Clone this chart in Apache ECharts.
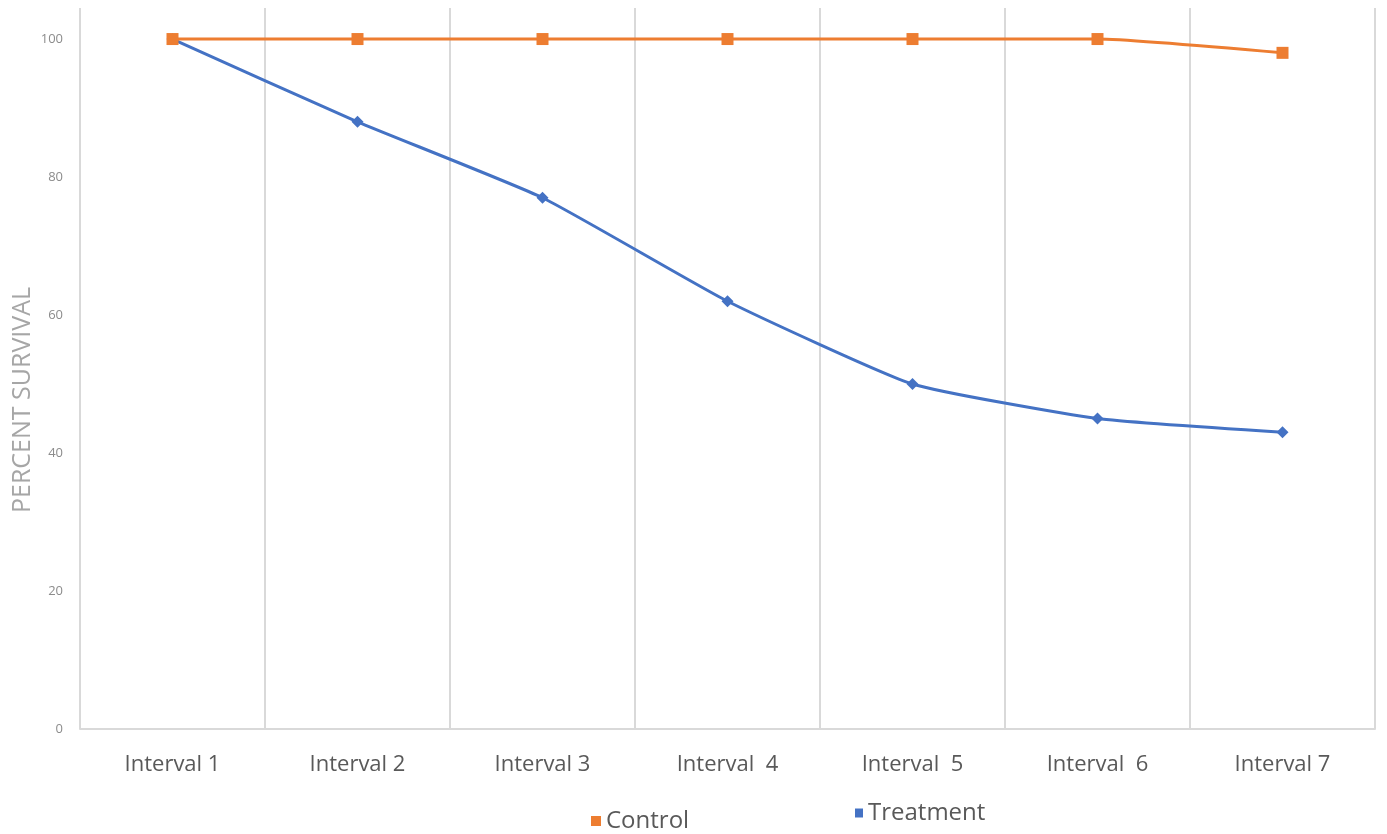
<!DOCTYPE html>
<html>
<head>
<meta charset="utf-8">
<script src="https://cdn.jsdelivr.net/npm/echarts@6/dist/echarts.min.js"></script>
<style>
  html, body { margin: 0; padding: 0; background: #fff; }
  #chart { width: 1387px; height: 834px; }
</style>
</head>
<body>
<div id="chart"></div>
<script>
// Survival over successive intervals for the two groups
const categories = ['Interval 1', 'Interval 2', 'Interval 3', 'Interval  4', 'Interval  5', 'Interval  6', 'Interval 7'];
const controlValues = [100, 100, 100, 100, 100, 100, 98];
const treatmentValues = [100, 88, 77, 62, 50, 45, 43];
const yTicks = [0, 20, 40, 60, 80, 100];
const yTitle = 'PERCENT SURVIVAL';

const FONT = '"Open Sans", "Noto Sans", sans-serif';
const ORANGE = '#ED7D31';
const BLUE = '#4472C4';

const chart = echarts.init(document.getElementById('chart'));
chart.setOption({
  animation: false,
  backgroundColor: '#fff',
  grid: { left: 80, right: 12, top: 8, bottom: 105, containLabel: false, outerBoundsMode: 'none' },
  legend: [
    {
      data: ['Control'],
      left: 586, top: 804,
      icon: 'rect', itemWidth: 10, itemHeight: 10, itemGap: 8,
      textStyle: { fontFamily: FONT, fontSize: 24, color: '#595959' }
    },
    {
      data: ['Treatment'],
      left: 850, top: 796,
      icon: 'rect', itemWidth: 8, itemHeight: 9, itemGap: 5,
      textStyle: { fontFamily: FONT, fontSize: 24, color: '#595959' }
    }
  ],
  graphic: [
    {
      type: 'text',
      x: 23, y: 400,
      rotation: Math.PI / 2,
      style: {
        text: yTitle,
        fontFamily: FONT, fontSize: 25, fill: '#a6a6a6',
        align: 'center', verticalAlign: 'middle'
      }
    }
  ],
  xAxis: {
    type: 'category',
    data: categories,
    boundaryGap: true,
    axisLine: { show: true, lineStyle: { color: '#d9d9d9', width: 2 } },
    axisTick: { show: false },
    axisLabel: {
      fontFamily: FONT, fontSize: 22, color: '#595959', margin: 25
    },
    splitLine: { show: true, lineStyle: { color: '#d9d9d9', width: 2 } }
  },
  yAxis: {
    type: 'value',
    min: yTicks[0],
    max: 104.5,
    interval: yTicks[1] - yTicks[0],
    axisLine: { show: false },
    axisTick: { show: false },
    splitLine: { show: false },
    axisLabel: {
      fontFamily: FONT, fontSize: 13, color: '#8c8c8c', margin: 17,
      showMaxLabel: false,
      formatter: v => (yTicks.indexOf(v) >= 0 ? String(v) : '')
    }
  },
  series: [
    {
      name: 'Treatment',
      type: 'line',
      data: treatmentValues,
      smooth: 0.15,
      symbol: 'diamond',
      symbolSize: 12,
      itemStyle: { color: BLUE },
      lineStyle: { color: BLUE, width: 3 },
      z: 2
    },
    {
      name: 'Control',
      type: 'line',
      data: controlValues,
      smooth: 0.15,
      symbol: 'rect',
      symbolSize: 12,
      itemStyle: { color: ORANGE },
      lineStyle: { color: ORANGE, width: 3 },
      z: 3
    }
  ]
});
</script>
</body>
</html>
